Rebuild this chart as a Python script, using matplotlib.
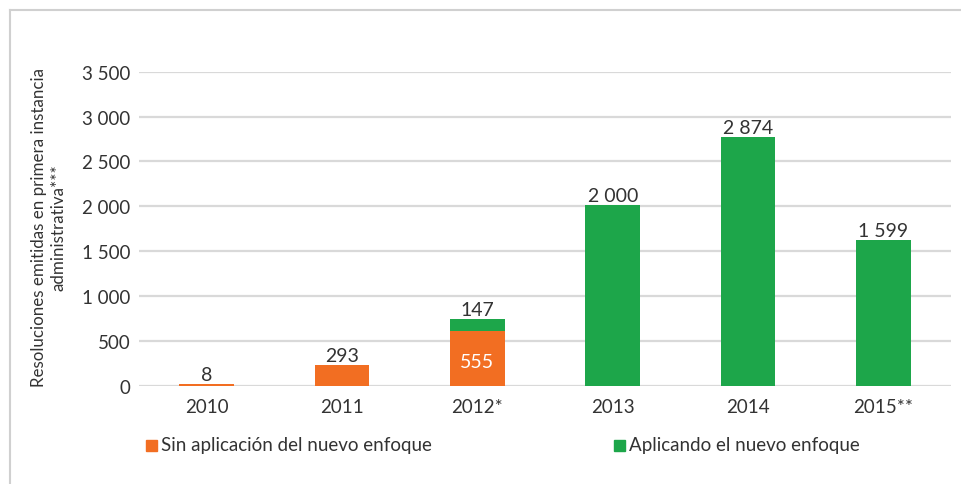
import matplotlib
matplotlib.use("Agg")
import matplotlib.pyplot as plt
from matplotlib.patches import Rectangle
from matplotlib.lines import Line2D

plt.rcParams['font.family'] = ['Lato', 'DejaVu Sans']

categories = ["2010", "2011", "2012*", "2013", "2014", "2015**"]
sin_enfoque = [15, 231, 610, 0, 0, 0]          # bar heights
con_enfoque = [0, 0, 133, 2014, 2772, 1624]
label_sin = ["8", "293", "555", None, None, None]
label_con = [None, None, "147", "2 000", "2 874", "1 599"]
yticks = [0, 500, 1000, 1500, 2000, 2500, 3000, 3500]
yticklabels = ["0", "500", "1 000", "1 500", "2 000", "2 500", "3 000", "3 500"]
legend_labels = ["Sin aplicación del nuevo enfoque", "Aplicando el nuevo enfoque"]
ylabel = "Resoluciones emitidas en primera instancia\nadministrativa***"

ORANGE = "#F26E22"
GREEN = "#1DA64A"
TXT = "#333333"
GRID = "#D9D9D9"
FS = 13.5

fig = plt.figure(figsize=(9.62, 4.85), dpi=100)
ax = fig.add_axes([0.1445, 0.2027, 0.8441, 0.6474])

x = list(range(len(categories)))
w = 0.405
ax.bar(x, sin_enfoque, width=w, color=ORANGE, zorder=3)
ax.bar(x, con_enfoque, width=w, bottom=sin_enfoque, color=GREEN, zorder=3)

ax.set_xlim(-0.5, len(categories) - 0.5)
ax.set_ylim(0, 3500)
ax.set_yticks(yticks)
ax.set_yticklabels(yticklabels)
ax.set_xticks(x)
ax.set_xticklabels(categories)
ax.tick_params(axis='both', length=0, labelsize=FS, colors=TXT)
ax.tick_params(axis='y', pad=6)
ax.tick_params(axis='x', pad=9)
ax.yaxis.grid(True, color=GRID, linewidth=1.6, zorder=0)
ax.set_axisbelow(True)
for s in ax.spines.values():
    s.set_visible(False)

# value labels
for i in x:
    total = sin_enfoque[i] + con_enfoque[i]
    if label_con[i] is not None:
        ax.annotate(label_con[i], (i, total), xytext=(0, 1), textcoords='offset points',
                    ha='center', va='bottom', fontsize=FS + 0.5, color=TXT)
        if label_sin[i] is not None:
            ax.text(i, sin_enfoque[i] * 0.45, label_sin[i], ha='center', va='center',
                    fontsize=FS + 0.5, color='white', zorder=4)
    elif label_sin[i] is not None:
        ax.annotate(label_sin[i], (i, total), xytext=(0, 1), textcoords='offset points',
                    ha='center', va='bottom', fontsize=FS + 0.5, color=TXT)

# y label
fig.text(0.0508, 0.53, ylabel, rotation=90, ha='center', va='center', fontsize=12.2,
         color=TXT, multialignment='center', linespacing=1.32)

# legend (manual placement)
ly = 1 - 446 / 485
for (xs, col, lab) in [(146, ORANGE, legend_labels[0]), (614, GREEN, legend_labels[1])]:
    fig.patches.append(Rectangle((xs / 962, ly - 5.5 / 485), 11 / 962, 11 / 485,
                                 transform=fig.transFigure, color=col, figure=fig))
    fig.text((xs + 15) / 962, ly, lab, ha='left', va='center', fontsize=FS, color=TXT)

# outer frame
fc = "#D0D0D0"
fig.lines.append(Line2D([10 / 962, 10 / 962], [0, 1 - 11 / 485], transform=fig.transFigure,
                        color=fc, linewidth=1.5, figure=fig))
fig.lines.append(Line2D([10 / 962, 960 / 962], [1 - 11 / 485, 1 - 11 / 485],
                        transform=fig.transFigure, color=fc, linewidth=1.5, figure=fig))

fig.savefig("out.png", dpi=100)
